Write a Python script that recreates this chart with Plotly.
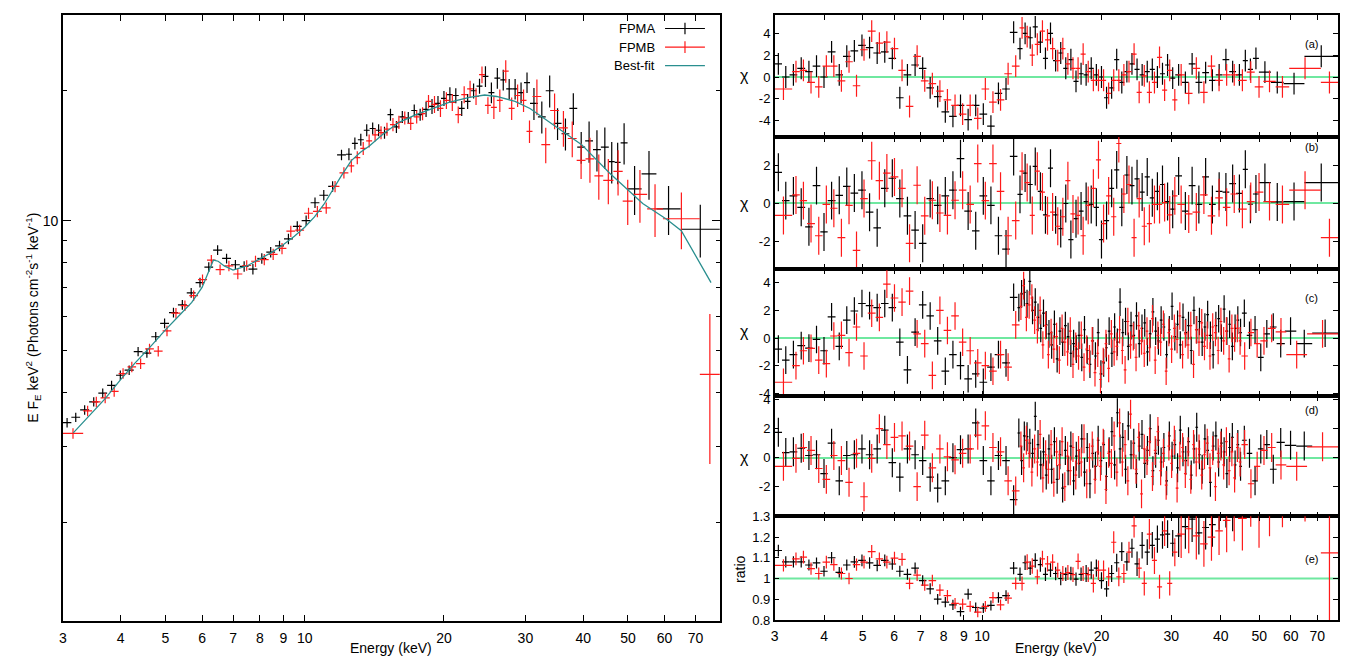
import math
import plotly.graph_objects as go

W, H = 1351, 669

# ---------------- data ----------------
# FPMA (black) coarse bin edges, keV
edges_A = [3.00, 3.13, 3.27, 3.42, 3.58, 3.74, 3.91, 4.08, 4.27, 4.46, 4.66, 4.87, 5.09, 5.32, 5.56, 5.81,
           6.07, 6.34, 6.63, 6.93, 7.24, 7.56, 7.90, 8.26, 8.63, 9.02, 9.43, 9.85, 10.30, 10.76, 11.24, 11.75,
           12.28, 12.65, 13.03, 13.42, 13.82, 14.24, 14.66, 15.10, 15.56, 16.02, 16.50, 17.00, 17.51, 18.03,
           18.57, 19.13, 19.71, 20.30, 20.91, 21.53, 22.18, 22.84, 23.53, 24.23, 24.96, 25.71, 26.48, 27.27,
           28.09, 28.93, 29.80, 30.70, 31.93, 33.20, 34.53, 35.91, 37.35, 38.84, 40.40, 42.01, 43.69, 45.44,
           46.80, 48.20, 49.90, 53.50, 57.60, 65.00, 79.00]
# FPMB (red) coarse bin edges, keV
edges_B = [3.00, 3.32, 3.47, 3.62, 3.79, 3.96, 4.14, 4.32, 4.52, 4.72, 4.93, 5.15, 5.39, 5.63, 5.88, 6.15,
           6.42, 6.71, 7.01, 7.33, 7.66, 8.00, 8.36, 8.74, 9.13, 9.54, 9.97, 10.42, 10.89, 11.38, 11.89, 12.43,
           12.80, 13.19, 13.58, 13.99, 14.41, 14.84, 15.29, 15.75, 16.22, 16.70, 17.21, 17.72, 18.25, 18.80,
           19.37, 19.95, 20.55, 21.16, 21.80, 22.45, 23.12, 23.82, 24.53, 25.27, 26.03, 26.81, 27.61, 28.44,
           29.29, 30.17, 31.08, 32.48, 33.94, 35.47, 37.06, 38.73, 40.47, 42.30, 44.20, 46.50, 48.70, 51.20,
           55.00, 59.50, 71.50, 79.00]

flux_A = [3.40, 3.50, 3.64, 3.80, 3.98, 4.15, 4.38, 4.50, 4.97, 4.93,
          5.38, 5.78, 6.12, 6.38, 6.80, 7.18, 7.80, 8.54, 8.17, 7.90,
          7.83, 7.72, 8.17, 8.45, 8.74, 9.07, 9.70, 10.00, 11.00, 11.45,
          12.00, 14.20, 14.25, 15.10, 15.40, 16.20, 16.35, 16.20, 16.00, 17.60,
          16.50, 17.40, 17.30, 18.00, 17.60, 18.10, 18.40, 18.70, 19.20, 19.60,
          19.50, 18.20, 18.90, 20.00, 20.50, 21.60, 19.80, 21.40, 21.20, 20.20,
          20.20, 19.80, 20.90, 18.70, 17.40, 20.00, 16.80, 15.90, 18.20, 14.80,
          15.30, 14.60, 14.80, 13.70, 13.65, 15.15, 11.85, 12.84, 10.65, 9.55]
flux_B = [3.21, 3.62, 3.80, 3.88, 4.02, 4.42, 4.58, 4.66, 5.04, 4.98,
          5.55, 6.10, 6.35, 6.70, 7.30, 8.10, 7.70, 7.85, 7.52, 7.87,
          8.05, 8.12, 8.35, 8.62, 9.45, 9.50, 10.40, 10.50, 10.70, 12.00,
          12.90, 13.40, 14.00, 14.70, 15.30, 15.80, 16.00, 16.30, 16.70, 16.90,
          17.30, 16.80, 17.40, 17.70, 18.90, 18.60, 18.20, 19.00, 18.80, 17.60,
          19.60, 20.20, 19.40, 21.80, 18.50, 18.30, 19.00, 22.20, 18.20, 19.50,
          19.00, 16.10, 19.40, 15.00, 18.00, 16.40, 15.50, 13.80, 13.90, 12.70,
          12.40, 13.00, 11.10, 11.50, 10.65, 10.10, 4.40]

# fractional 1-sigma errors per bin
relerr_A = [0.025, 0.025, 0.025, 0.025, 0.025, 0.025, 0.025, 0.025, 0.025, 0.025,
            0.026, 0.026, 0.026, 0.026, 0.026, 0.026, 0.026, 0.026, 0.026, 0.026,
            0.028, 0.028, 0.028, 0.028, 0.028, 0.028, 0.028, 0.028, 0.028, 0.028,
            0.028, 0.028, 0.032, 0.032, 0.032, 0.032, 0.032, 0.032, 0.032, 0.032,
            0.032, 0.032, 0.032, 0.032, 0.032, 0.040, 0.040, 0.040, 0.040, 0.040,
            0.040, 0.040, 0.040, 0.040, 0.040, 0.055, 0.055, 0.055, 0.055, 0.055,
            0.055, 0.055, 0.055, 0.085, 0.085, 0.085, 0.085, 0.085, 0.085, 0.085,
            0.110, 0.110, 0.110, 0.110, 0.110, 0.110, 0.130, 0.130, 0.130, 0.140]
relerr_B = [0.028, 0.028, 0.028, 0.028, 0.028, 0.028, 0.028, 0.028, 0.028, 0.028,
            0.028, 0.028, 0.028, 0.028, 0.028, 0.028, 0.028, 0.028, 0.028, 0.028,
            0.030, 0.030, 0.030, 0.030, 0.030, 0.030, 0.030, 0.030, 0.030, 0.030,
            0.030, 0.035, 0.035, 0.035, 0.035, 0.035, 0.035, 0.035, 0.035, 0.035,
            0.035, 0.035, 0.035, 0.035, 0.035, 0.045, 0.045, 0.045, 0.045, 0.045,
            0.045, 0.045, 0.045, 0.045, 0.045, 0.060, 0.060, 0.060, 0.060, 0.060,
            0.060, 0.060, 0.095, 0.095, 0.095, 0.095, 0.095, 0.095, 0.120, 0.120,
            0.120, 0.120, 0.120, 0.140, 0.140, 0.150, 0.380]

# best-fit model curve
model_E = [3.16, 3.4, 3.7, 4.0, 4.3, 4.6, 5.0, 5.4, 5.7, 6.0, 6.2, 6.35, 6.5, 6.7, 7.0, 7.5, 8.0, 8.5,
           9.0, 9.5, 10.0, 10.5, 11.0, 11.6, 12.0, 12.6, 13.2, 13.8, 14.8, 16.0, 17.4, 19.2, 20.5, 22.7,
           24.5, 26.0, 28.5, 30.7, 33.8, 39.7, 45.6, 53.8, 60.6, 65.2, 75.6]
model_F = [3.22, 3.50, 3.86, 4.28, 4.68, 5.05, 5.58, 6.08, 6.46, 7.0, 7.6, 8.1, 8.05, 7.85, 7.68, 7.85,
           8.15, 8.45, 8.8, 9.2, 9.65, 10.2, 10.9, 12.0, 12.7, 13.76, 14.4, 14.9, 15.9, 16.9, 17.6, 18.3,
           18.8, 19.3, 19.55, 19.4, 18.9, 18.2, 16.9, 15.0, 12.9, 10.96, 10.07, 9.48, 7.18]

# (a) chi residuals, coarse binning
chi_a_A = [1.2, 0.0, 0.2, 0.8, 0.5, 1.0, 0.0, 2.3, 0.2, 1.9,
           2.4, 2.9, 2.7, 2.2, 2.3, 1.7, -1.9, 0.2, 1.1, 0.8,
           -1.0, -1.8, -3.2, -3.6, -2.6, -3.9, -2.6, -3.4, -4.5, -1.5,
           -1.1, 4.1, 2.6, 4.0, 3.6, 4.6, 3.2, 1.7, 4.0, 1.5,
           2.2, 0.8, 1.6, -0.4, 0.3, 0.2, 0.8, 0.2, 0.0, -1.9,
           -1.0, 1.6, -0.5, 0.5, 1.2, 0.7, 0.2, 0.5, 0.7, 0.0,
           0.3, 1.1, -0.1, 0.2, -0.5, 1.2, -0.5, 0.4, -0.3, 0.2,
           1.6, 0.5, 0.2, 1.5, 0.7, 1.7, 0.45, -0.5, -0.6, 1.9]
chi_a_B = [-1.1, 0.5, 0.6, -0.5, -0.9, 1.0, 1.0, -0.35, 1.4, -0.8,
           2.5, 4.2, 3.1, 3.2, 2.6, 0.6, -2.7, 1.9, -0.35, -0.6,
           -1.3, -2.1, -2.6, -3.4, -2.6, -3.8, -1.1, -2.3, -2.1, 0.3,
           1.0, 4.5, 3.7, 2.0, 3.0, 4.2, 3.4, 2.6, 1.5, 2.6,
           1.2, 0.8, 0.8, 2.1, 0.5, -0.3, -0.3, -0.3, -1.5, -0.3,
           -0.3, 0.2, 0.5, 2.1, -1.4, 0.1, -1.4, -0.5, 1.8, -1.2,
           0.6, -2.1, 0.2, -1.5, 0.8, -1.4, 1.0, -0.3, 0.2, 0.2,
           -0.3, 0.45, -0.9, -0.4, -0.9, 0.8, -0.5]

# (b) chi residuals, coarse binning
chi_b_A = [1.64, 0.15, 0.4, -0.2, -1.23, 0.94, -1.5, 0.15, 0.43, 0.9,
           0.55, 0.7, -0.46, -1.28, 0.8, 1.33, 0.26, -0.65, -1.4, -2.1,
           0.26, -0.1, 0.4, 0.7, 2.36, -0.4, -1.44, 0.4, -0.1, -1.7,
           -2.4, 2.48, 0.48, 1.6, 1.0, 1.95, 0.64, -0.6, 1.86, -0.6,
           -1.32, 0.0, -1.9, -0.8, -0.4, 0.1, -0.05, -0.2, -1.9, -0.9,
           0.8, 1.77, -0.2, 1.5, 0.94, 1.3, 0.6, 1.4, 0.3, 0.64,
           1.0, 0.1, -0.3, 1.45, -0.4, 0.94, -0.05, 1.4, -0.05, 0.64,
           0.6, 1.05, 0.53, 1.8, -0.04, 0.5, 1.1, 0.08, 0.1, 1.1]
chi_b_B = [-0.63, 0.45, 0.15, -1.06, -1.7, -0.05, -0.25, -1.8, -0.1, -2.47,
           0.26, 2.25, 1.2, 1.6, 1.4, 0.8, -2.1, 0.96, -0.65, 0.17,
           -0.5, -0.63, 0.17, 0.7, -0.05, 2.1, 0.15, 2.1, 0.64, -1.7,
           -0.9, 1.7, 1.1, -0.63, 1.7, 0.6, -0.65, -0.45, -1.2, -0.7,
           1.2, -0.55, -0.63, -1.7, -0.1, 0.8, 2.3, -1.06, 0.4, -0.7,
           3.16, 0.5, 1.0, -1.8, 0.26, -1.2, -1.06, -0.05, -0.05, 0.05,
           -0.6, 0.4, -0.05, -0.55, -0.45, 0.45, -0.65, 0.3, -0.2, 0.5,
           -0.3, 0.1, 0.6, 0.1, -0.05, 0.7, -1.8]

# (e) data/model ratio, coarse binning
ratio_A = [1.135, 1.08, 1.08, 1.08, 1.065, 1.075, 1.035, 1.10, 1.03, 1.065,
           1.08, 1.087, 1.075, 1.063, 1.087, 1.07, 1.035, 1.02, 1.05, 0.99,
           0.95, 0.90, 0.886, 0.873, 0.84, 0.925, 0.86, 0.857, 0.87, 0.908,
           0.917, 1.05, 1.02, 1.076, 1.05, 1.087, 1.067, 1.02, 1.04, 1.024,
           1.0, 1.02, 1.024, 0.997, 1.02, 1.024, 1.04, 1.05, 0.99, 0.95,
           1.024, 1.076, 1.13, 1.08, 1.146, 1.071, 1.16, 1.127, 1.16, 1.19,
           1.21, 1.214, 1.17, 1.206, 1.25, 1.286, 1.22, 1.246, 1.26, 1.35,
           1.40, 1.38, 1.45, 1.50, 1.45, 1.50, 1.55, 1.60, 1.60, 1.65]
ratio_B = [1.063, 1.095, 1.103, 1.048, 1.024, 1.079, 1.067, 1.024, 1.0, 1.067,
           1.079, 1.13, 1.095, 1.079, 1.098, 1.092, 0.976, 1.016, 0.968, 0.99,
           0.944, 0.917, 0.88, 0.876, 0.865, 0.838, 0.865, 0.908, 0.873, 0.905,
           0.976, 0.976, 1.079, 1.06, 1.008, 1.095, 1.071, 1.079, 1.04, 1.024,
           1.029, 1.019, 1.083, 1.024, 1.019, 0.976, 1.04, 1.04, 1.008, 1.175,
           1.008, 1.024, 1.127, 1.254, 1.05, 0.976, 1.214, 1.087, 0.96, 1.23,
           0.976, 1.127, 1.214, 1.24, 1.206, 1.167, 1.2, 1.23, 1.28, 1.34,
           1.29, 1.42, 1.305, 1.4, 1.45, 1.5, 1.124]

# finer binning above ~12 keV used in panels (c) and (d)
fine_hi_A = [12.28, 12.48, 12.68, 12.88, 13.09, 13.30, 13.51, 13.73, 13.95, 14.17,
             14.40, 14.63, 14.86, 15.10, 15.34, 15.59, 15.84, 16.09, 16.35, 16.61,
             16.88, 17.15, 17.42, 17.70, 17.98, 18.27, 18.56, 18.86, 19.16, 19.47,
             19.78, 20.10, 20.42, 20.75, 21.08, 21.42, 21.76, 22.11, 22.46, 22.82,
             23.19, 23.56, 23.94, 24.32, 24.71, 25.11, 25.51, 25.92, 26.33, 26.75,
             27.18, 27.62, 28.06, 28.51, 28.97, 29.43, 29.90, 30.38, 30.87, 31.36,
             31.86, 32.37, 32.89, 33.42, 33.95, 34.50, 35.05, 35.61, 36.18, 36.76,
             37.35, 37.95, 38.56, 39.18, 39.81, 40.45, 41.10, 41.76, 42.43, 43.11,
             43.80, 44.50, 45.21, 46.50, 48.00, 49.60, 51.30, 53.20, 55.30, 58.00,
             62.00, 68.00, 79.00]
fine_hi_B = [12.43, 12.63, 12.83, 13.04, 13.25, 13.46, 13.68, 13.90, 14.12, 14.35,
             14.58, 14.81, 15.05, 15.29, 15.54, 15.79, 16.04, 16.30, 16.56, 16.82,
             17.09, 17.37, 17.65, 17.93, 18.22, 18.51, 18.81, 19.11, 19.42, 19.73,
             20.05, 20.37, 20.69, 21.02, 21.36, 21.70, 22.05, 22.40, 22.76, 23.13,
             23.50, 23.87, 24.26, 24.64, 25.04, 25.44, 25.85, 26.26, 26.68, 27.11,
             27.54, 27.98, 28.43, 28.89, 29.35, 29.82, 30.30, 30.78, 31.28, 31.78,
             32.29, 32.81, 33.33, 33.87, 34.41, 34.96, 35.52, 36.09, 36.67, 37.26,
             37.86, 38.46, 39.08, 39.70, 40.34, 40.99, 41.64, 42.31, 42.99, 43.68,
             44.38, 45.09, 46.80, 48.50, 50.30, 52.50, 55.00, 58.50, 66.00, 79.00]

chi_c_A = [-0.8, -1.6, -1.2, -0.55, -0.73, -0.1, -0.92, 1.53, -0.6, 1.3,
           1.96, 2.5, 2.35, 2.2, 2.5, 2.2, -0.3, -2.3, 0.43, 2.4,
           1.6, -0.2, -2.4, -1.2, -2.0, -2.95, -2.6, -3.2, -2.1, -1.2,
           -1.8, 2.95,
           2.2, 3.2, 3.3, 2.5, 4.1, 2.0, 2.6, 1.5, 0.7, 1.8, 0.95,
           0.3, -0.5, 1.0, -1.5, 0.5, -0.3, 0.9, 0.1, -1.1, -0.4,
           -0.8, 0.2, -1.4, 0.6, -0.9, -1.9, -0.2, -1.3, 0.4, -2.6, -1.8, -0.7, 0.5, -1.1, 0.8, -0.3,
           2.6, 0.4, 1.2, -0.6, 0.9, 0.2, 1.6, -0.4, 0.7, 1.1, -1.0, 0.3, 1.9, 0.5, -0.2,
           1.3, 0.8, -1.2, 0.6, 2.3, 0.1, 1.0, -0.5, 1.5, 0.4, 0.9, -0.9, 2.0, 0.6, 1.2,
           -0.3, 0.8, 1.7, 0.2, -1.2, 0.9, 1.4, 0.0, 2.1, 0.5, 1.0, -0.6, 0.7, 1.3, 0.4,
           1.8, 0.2, 0.6, -1.4, 0.3, 0.8, -0.4, 0.5, -0.4, 0.35]
chi_c_B = [-3.2, -2.0, -0.92, -0.75, -1.6, -1.85, 0.15, 0.2, -1.05, 0.8,
           -1.3, 1.8, 1.5, 3.9, 2.9, 2.6, 3.4, 0.3, -0.4, -2.7,
           2.0, 0.55, 1.6, -0.3, -0.92, -1.8, -2.0, -2.4, -1.2, -2.1,
           0.95,
           2.3, 3.8, 1.5, 2.4, 2.9, 1.3, 0.6, 2.0, -0.5, 0.9,
           -1.2, 0.4, -0.8, 0.1, -1.6, 0.7, -0.3, -1.0, 0.5, -1.9,
           -0.6, -1.3, 0.2, -2.1, -0.8, -1.5, -0.2, -2.5, -1.1, -3.0, -1.7, -0.4, -2.2, 0.3, -1.0, -0.6,
           0.6, -0.9, -2.3, 1.2, -0.5, 0.1, -1.4, 0.9, -0.2, -1.1, 0.5, -0.7, 1.4, -1.6, 0.2,
           -0.3, 1.0, -2.4, 0.4, -0.8, 0.7, -0.1, 1.6, -1.2, 0.3, -0.5, 0.9, -1.9, 0.6, -0.3,
           1.1, -0.6, 0.2, -1.3, 0.8, 0.4, -0.9, 1.2, -0.2, 0.5, -1.5, 0.7, 0.0,
           0.7, -0.2, -1.3, 0.4, -0.4, -0.2, 0.7, 0.45, -1.2, 0.3]

chi_d_A = [1.75, 0.35, 0.4, 0.65, 0.15, 0.2, -1.1, 1.0, -1.6, 0.15,
           0.2, 0.6, 0.2, 0.6, 1.9, -0.35, -1.35, 0.6, 0.2, -0.2,
           -1.35, -2.1, -1.6, 0.0, 0.55, 0.6, 2.4, -0.2, -1.6, 0.15,
           -0.2, -2.9,
           1.7, -0.2, 1.5, 1.45, 1.0, 0.3, 2.85, 0.9, -0.5, 0.4,
           -1.2, 0.6, -0.8, 1.1, -1.5, 0.2, -2.1, 0.5, -0.9, 0.8,
           -1.6, 0.1, -0.4, 1.3, -1.0, 0.7, -1.8, 0.3, -0.6, 1.2, -0.2, 0.9, -1.3, 0.4, 1.8, -0.5,
           3.1, 0.6, 1.4, -0.8, 2.2, 0.2, 1.0, -1.1, 0.8, 1.6, -0.4, 0.5, 2.0, -0.9, 0.3,
           1.2, -0.3, 0.7, -1.6, 1.5, 0.1, 0.9, -0.7, 1.9, 0.4, -0.2, 1.1, -1.2, 0.6, 2.1,
           0.2, -0.8, 1.3, 0.5, -1.7, 0.8, 1.5, -0.3, 1.0, 0.4, -1.1, 0.7, 1.4, -0.5, 0.9,
           -0.6, 1.2, 0.3, -1.6, 0.6, 0.9, -0.8, 1.05, 0.85, 0.8]
chi_d_B = [-0.6, -0.05, 0.7, 0.5, -0.75, -1.5, 0.15, -0.2, -1.7, 0.3,
           -2.7, -0.05, 2.0, 0.9, 1.4, 1.5, 0.8, -2.0, 1.55, -0.7,
           0.6, 0.06, -0.15, 0.3, 0.6, 1.55, 2.2, 0.7, 0.4, -1.6,
           -2.3,
           0.8, -0.7, 1.2, 0.3, -1.0, 0.6, -0.3, 1.6, -1.4, 0.2,
           -0.8, 0.9, -1.7, 0.4, -0.5, 1.1, -2.0, 0.1, -0.9, 0.7,
           -1.2, 0.5, -0.3, 1.3, -1.8, 0.0, 0.8, -1.5, 0.4, -0.6, 1.0, -2.2, 0.3, -0.4, 1.5, -1.0,
           2.4, -0.3, 0.9, -1.6, 3.0, 0.2, -0.8, 1.4, -2.5, 0.6, -0.2, 1.1, -1.3, 0.5, 1.8,
           -0.9, 0.3, -1.9, 0.8, -0.4, 1.2, -2.1, 0.1, 0.7, -1.1, 0.4, -1.5, 0.9, -0.3, 0.6,
           -1.2, 0.2, 1.0, -0.7, 0.5, -2.0, 0.3, 0.8, -0.5, 1.1, -0.9, 0.4, -1.4,
           0.7, -0.3, 0.9, -1.8, -0.6, 0.5, 0.7, -0.5, -0.6, 0.75]

chi_sigma = 1.0   # delchi residuals have unit error bars
unity = 1.0       # reference level of the ratio panel

x_ticks = [3, 4, 5, 6, 7, 8, 9, 10, 20, 30, 40, 50, 60, 70]
x_range_keV = [3.0, 79.0]
flux_range = [1.18, 30.0]
panel_labels = ["(a)", "(b)", "(c)", "(d)", "(e)"]

# ---------------- helpers ----------------
BLACK = "#000000"
RED = "#ff1a1a"
TEAL = "#2a8f8f"
MINT = "#6fe8a0"
FONT = "Liberation Sans, Arial, Helvetica, sans-serif"


def py(p):
    return 1 - p / H


def px(p):
    return p / W


def binned(edges, n):
    lo = edges[:-1][:n]
    hi = edges[1:][:n]
    c = [math.sqrt(a * b) for a, b in zip(lo, hi)]
    return c, [h - x for h, x in zip(hi, c)], [x - l for x, l in zip(c, lo)]


def cross(xa, ya, edges, yv, color, yerr=None):
    n = min(len(edges) - 1, len(yv)) if yerr is None else min(len(edges) - 1, len(yv), len(yerr))
    c, ep, em = binned(edges, n)
    if yerr is None:
        ey = dict(type="constant", value=chi_sigma, width=0, thickness=1.2, color=color)
    else:
        ey = dict(type="data", array=list(yerr[:n]), width=0, thickness=1.2, color=color)
    return go.Scatter(
        x=c, y=list(yv[:n]), mode="markers",
        marker=dict(size=1, color=color),
        error_x=dict(type="data", symmetric=False, array=ep, arrayminus=em,
                     width=0, thickness=1.2, color=color),
        error_y=ey, xaxis=xa, yaxis=ya, showlegend=False, hoverinfo="skip")


fig = go.Figure()

# ---- left panel: unfolded spectrum ----
ferr_A = [f * r for f, r in zip(flux_A, relerr_A)]
ferr_B = [f * r for f, r in zip(flux_B, relerr_B)]
fig.add_trace(cross("x", "y", edges_A, flux_A, BLACK, ferr_A))
fig.add_trace(cross("x", "y", edges_B, flux_B, RED, ferr_B))
fig.add_trace(go.Scatter(x=model_E, y=model_F, mode="lines", line=dict(color=TEAL, width=1.3),
                         xaxis="x", yaxis="y", showlegend=False, hoverinfo="skip"))

# ---- right panels ----
fine_A = edges_A[:32] + fine_hi_A
fine_B = edges_B[:31] + fine_hi_B

fig.add_trace(cross("x2", "y2", edges_A, chi_a_A, BLACK))
fig.add_trace(cross("x2", "y2", edges_B, chi_a_B, RED))
fig.add_trace(cross("x3", "y3", edges_A, chi_b_A, BLACK))
fig.add_trace(cross("x3", "y3", edges_B, chi_b_B, RED))
fig.add_trace(cross("x4", "y4", fine_A, chi_c_A, BLACK))
fig.add_trace(cross("x4", "y4", fine_B, chi_c_B, RED))
fig.add_trace(cross("x5", "y5", fine_A, chi_d_A, BLACK))
fig.add_trace(cross("x5", "y5", fine_B, chi_d_B, RED))
rerr_A = [q * r for q, r in zip(ratio_A, relerr_A)]
rerr_B = [q * r for q, r in zip(ratio_B, relerr_B)]
fig.add_trace(cross("x6", "y6", edges_A, ratio_A, BLACK, rerr_A))
fig.add_trace(cross("x6", "y6", edges_B, ratio_B, RED, rerr_B))

# ---------------- axes ----------------
base = dict(showline=True, linecolor="black", linewidth=1.5, mirror="allticks",
            ticks="inside", ticklen=6, tickwidth=1, tickcolor="black",
            showgrid=False, zeroline=False, tickfont=dict(family=FONT, size=14, color="black"))
xr = [math.log10(x_range_keV[0]), math.log10(x_range_keV[1])]
xlab = [str(v) for v in x_ticks]

layout_axes = {}
layout_axes["xaxis"] = dict(base, domain=[px(59), px(718)], anchor="y", type="log", range=xr,
                            tickvals=x_ticks, ticktext=xlab, ticklabelstandoff=4)
layout_axes["yaxis"] = dict(base, domain=[py(628), py(8)], anchor="x", type="log",
                            range=[math.log10(flux_range[0]), math.log10(flux_range[1])],
                            tickvals=[10], ticktext=["10"], ticklen=8,
                            minor=dict(tickmode="array", tickvals=[2, 3, 4, 5, 6, 7, 8, 9, 20],
                                       ticks="inside", ticklen=4, tickcolor="black"))

panels = [
    (2, [-5.5, 5.7], 8, 133, [-4, -2, 0, 2, 4], ["-4", "-2", "0", "2", "4"]),
    (3, [-3.45, 3.5], 133, 268, [-2, 0, 2], ["-2", "0", "2"]),
    (4, [-4.2, 5.0], 268, 398, [-4, -2, 0, 2, 4], ["-4", "-2", "0", "2", "4"]),
    (5, [-4.05, 4.25], 398, 521, [-2, 0, 2, 4], ["-2", "0", "2", "4"]),
    (6, [0.8, 1.3], 521, 627, [0.8, 0.9, 1.0, 1.1, 1.2, 1.3], ["0.8", "0.9", "1", "1.1", "1.2", "1.3"]),
]
rfont = dict(family=FONT, size=13, color="black")
for k, yr, top, bot, tv, tt in panels:
    layout_axes[f"xaxis{k}"] = dict(base, domain=[px(773), px(1338)], anchor=f"y{k}", type="log",
                                    range=xr, tickvals=x_ticks, ticktext=xlab,
                                    showticklabels=(k == 6), ticklen=5, tickfont=dict(family=FONT, size=14, color="black"),
                                    ticklabelstandoff=3)
    layout_axes[f"yaxis{k}"] = dict(base, domain=[py(bot), py(top)], anchor=f"x{k}", range=yr,
                                    tickvals=tv, ticktext=tt, ticklen=5, tickfont=rfont,
                                    zeroline=(k != 6), zerolinecolor=MINT, zerolinewidth=2)

fig.update_layout(**layout_axes)

shapes = [dict(type="line", xref="x6 domain", yref="y6", x0=0, x1=1, y0=unity, y1=unity,
               line=dict(color=MINT, width=2), layer="below")]


def note(text, xp, yp, size, angle=0, xanchor="center"):
    return dict(text=text, x=px(xp), y=py(yp), xref="paper", yref="paper", textangle=angle,
                xanchor=xanchor, yanchor="middle", showarrow=False,
                font=dict(family=FONT, size=size, color="black"))


# legend (gnuplot style: text then sample)
leg = [("FPMA", BLACK, 22, True), ("FPMB", RED, 41, True), ("Best-fit", TEAL, 60, False)]
annotations = []
for name, col, yy, tick in leg:
    annotations.append(note(name, 655, yy, 13, xanchor="right"))
    shapes.append(dict(type="line", xref="paper", yref="paper", x0=px(663), x1=px(703),
                       y0=py(yy), y1=py(yy), line=dict(color=col, width=1.2)))
    if tick:
        shapes.append(dict(type="line", xref="paper", yref="paper", x0=px(683), x1=px(683),
                           y0=py(yy - 6), y1=py(yy + 6), line=dict(color=col, width=1.2)))

# axis titles
annotations.append(note("E F<sub>E</sub> keV<sup>2</sup> (Photons cm<sup>-2</sup>s<sup>-1</sup> keV<sup>-1</sup>)",
                        29, 318, 14, angle=-90))
annotations.append(note("Energy (keV)", 388, 656, 14))
annotations.append(note("Energy (keV)", 1055, 656, 14))
for yy in [70, 201, 332, 461]:
    annotations.append(note("χ", 743, yy, 16))
annotations.append(note("ratio", 738, 575, 14, angle=-90))
for lab, yy in zip(panel_labels, [38, 143, 298, 412, 565]):
    annotations.append(note(lab, 1311, yy, 11))

fig.update_layout(width=W, height=H, autosize=False, margin=dict(l=0, r=0, t=0, b=0),
                  paper_bgcolor="white", plot_bgcolor="white", showlegend=False,
                  shapes=shapes, annotations=annotations)

fig.write_html("out.html", config={"displayModeBar": False},
               post_script="document.body.style.margin='0px';")
